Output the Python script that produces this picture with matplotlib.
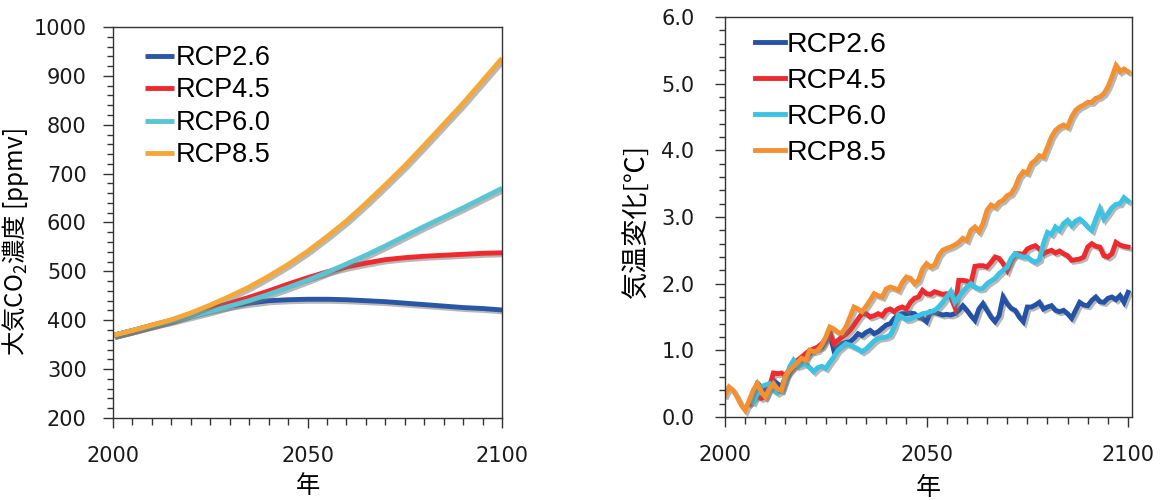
import matplotlib
matplotlib.use("Agg")
import matplotlib.pyplot as plt
import matplotlib.patheffects as pe
from matplotlib.ticker import MultipleLocator
import numpy as np

# CO2 concentration [ppmv], every 5 years 2000-2100
co2_years = list(range(2000, 2101, 5))
co2_rcp26 = [369, 379, 389, 400, 412, 421, 429, 435, 440, 442, 443, 443, 442, 440, 438, 435, 432, 429, 426, 424, 421]
co2_rcp45 = [369, 379, 390, 400, 412, 423, 435, 447, 460, 474, 487, 499, 509, 517, 524, 528, 531, 533, 535, 537, 538]
co2_rcp60 = [369, 379, 389, 398, 408, 418, 429, 440, 453, 467, 482, 498, 515, 533, 552, 572, 592, 611, 630, 650, 670]
co2_rcp85 = [369, 379, 390, 401, 415, 431, 449, 468, 490, 514, 541, 571, 603, 639, 677, 716, 758, 801, 844, 890, 936]

# temperature change [deg C], annual
t85_years = list(range(2000, 2101))
t_rcp85 = [0.33, 0.45, 0.40, 0.30, 0.18, 0.10, 0.25, 0.40, 0.50, 0.38,
           0.30, 0.42, 0.50, 0.42, 0.40, 0.62, 0.70, 0.76, 0.82, 0.88,
           0.85, 1.00, 0.98, 1.00, 1.08, 1.20, 1.35, 1.32, 1.27, 1.26,
           1.35, 1.50, 1.65, 1.62, 1.58, 1.66, 1.75, 1.85, 1.82, 1.80,
           1.92, 1.95, 1.93, 1.90, 2.02, 2.10, 2.08, 2.00, 2.05, 2.22,
           2.30, 2.25, 2.28, 2.42, 2.50, 2.53, 2.55, 2.58, 2.62, 2.68,
           2.65, 2.80, 2.85, 2.78, 2.90, 3.10, 3.18, 3.15, 3.22, 3.25,
           3.32, 3.35, 3.45, 3.60, 3.68, 3.66, 3.80, 3.85, 3.92, 3.90,
           4.05, 4.20, 4.30, 4.35, 4.38, 4.35, 4.50, 4.60, 4.65, 4.68,
           4.72, 4.72, 4.78, 4.80, 4.85, 4.95, 5.10, 5.27, 5.18, 5.22,
           5.18]

t45_years = list(range(2006, 2101))
t_rcp45 = [0.20, 0.28, 0.31, 0.28,
           0.30, 0.45, 0.66, 0.65, 0.66, 0.62, 0.72, 0.78, 0.85, 0.90,
           0.95, 1.00, 1.02, 1.05, 1.10, 1.18, 1.25, 1.10, 1.15, 1.20,
           1.24, 1.30, 1.38, 1.47, 1.55, 1.55, 1.50, 1.52, 1.55, 1.52,
           1.60, 1.62, 1.58, 1.63, 1.65, 1.62, 1.72, 1.78, 1.80, 1.90,
           1.85, 1.84, 1.88, 1.86, 1.84, 1.85, 1.80, 1.65, 2.05, 2.05,
           2.04, 2.00, 2.26, 2.27, 2.27, 2.25, 2.32, 2.40, 2.38, 2.30,
           2.20, 2.35, 2.45, 2.45, 2.44, 2.52, 2.55, 2.57, 2.52, 2.45,
           2.48, 2.50, 2.46, 2.49, 2.45, 2.42, 2.35, 2.36, 2.37, 2.40,
           2.55, 2.60, 2.56, 2.55, 2.42, 2.40, 2.45, 2.62, 2.58, 2.56,
           2.55]

t26_years = list(range(2006, 2101))
t_rcp26 = [0.22, 0.35, 0.50, 0.45,
           0.40, 0.48, 0.55, 0.50, 0.45, 0.60, 0.68, 0.75, 0.80, 0.85,
           0.90, 0.95, 1.02, 1.03, 1.05, 1.15, 1.25, 1.00, 1.05, 1.10,
           1.12, 1.13, 1.18, 1.25, 1.22, 1.27, 1.30, 1.25, 1.28, 1.33,
           1.38, 1.40, 1.48, 1.53, 1.55, 1.55, 1.56, 1.55, 1.50, 1.48,
           1.43, 1.58, 1.57, 1.55, 1.53, 1.54, 1.53, 1.55, 1.60, 1.67,
           1.60, 1.52, 1.45, 1.62, 1.70, 1.60, 1.50, 1.43, 1.52, 1.80,
           1.70, 1.63, 1.60, 1.50, 1.43, 1.65, 1.65, 1.68, 1.72, 1.62,
           1.65, 1.67, 1.60, 1.58, 1.60, 1.55, 1.48, 1.60, 1.72, 1.68,
           1.67, 1.75, 1.80, 1.73, 1.72, 1.78, 1.80, 1.76, 1.82, 1.72,
           1.87]

t60_years = list(range(2007, 2101))
t_rcp60 = [0.22, 0.35, 0.46,
           0.48, 0.50, 0.40, 0.36, 0.40, 0.55, 0.75, 0.85, 0.76, 0.78,
           0.80, 0.74, 0.68, 0.74, 0.76, 0.73, 0.82, 0.90, 1.00, 1.05,
           1.10, 1.08, 1.05, 1.02, 0.98, 1.02, 1.08, 1.14, 1.18, 1.19,
           1.20, 1.23, 1.35, 1.53, 1.50, 1.46, 1.47, 1.50, 1.52, 1.55,
           1.56, 1.58, 1.60, 1.65, 1.72, 1.80, 1.88, 1.72, 1.80, 1.88,
           1.95, 2.00, 1.95, 1.92, 1.93, 2.00, 2.04, 2.08, 2.15, 2.20,
           2.25, 2.38, 2.45, 2.42, 2.40, 2.40, 2.35, 2.32, 2.36, 2.60,
           2.77, 2.74, 2.85, 2.80, 2.90, 2.95, 2.87, 2.94, 2.97, 2.92,
           2.85, 2.80, 2.97, 3.12, 2.97, 3.05, 3.14, 3.19, 3.20, 3.29,
           3.24]

labels = ["RCP2.6", "RCP4.5", "RCP6.0", "RCP8.5"]
left_colors = ["#2a56a6", "#ee2a2e", "#5ac4d2", "#f4a83a"]
right_colors = ["#2452a4", "#ee2a2e", "#3cc2e2", "#f39132"]

cjk = ["Noto Sans CJK JP", "DejaVu Sans"]
shadow = [pe.SimpleLineShadow(offset=(1.5, -1.5), shadow_color="0.45", alpha=0.5),
          pe.Normal()]


def style_axes(ax, ypad):
    for s in ax.spines.values():
        s.set_color("#333333")
        s.set_linewidth(1.0)
    ax.tick_params(which="both", direction="out", colors="#333333",
                   labelcolor="#1a1a1a", labelsize=15)
    ax.tick_params(axis="x", which="both", pad=13)
    ax.tick_params(axis="y", which="both", pad=ypad)
    ax.tick_params(which="major", length=7, width=1.0)
    ax.tick_params(which="minor", length=4, width=1.0)
    ax.tick_params(axis="x", which="minor", length=5)
    ax.xaxis.set_major_locator(MultipleLocator(50))
    ax.xaxis.set_minor_locator(MultipleLocator(5))


fig = plt.figure(figsize=(11.63, 5.0), dpi=100)

# left: CO2
ax1 = fig.add_axes([0.0972, 0.164, 0.3345, 0.782])
co2_series = [co2_rcp26, co2_rcp45, co2_rcp60, co2_rcp85]
for vals, c, lab in zip(co2_series, left_colors, labels):
    ax1.plot(co2_years, vals, color=c, lw=3.5, label=lab,
             solid_capstyle="butt", path_effects=shadow)
ax1.set_xlim(2000, 2100)
ax1.set_ylim(200, 1000)
style_axes(ax1, 12)
ax1.yaxis.set_major_locator(MultipleLocator(100))
ax1.yaxis.set_minor_locator(MultipleLocator(20))
ax1.set_ylabel("大気CO$_\\mathregular{2}$濃度 [ppmv]", family=cjk, fontsize=17.5)
ax1.yaxis.set_label_coords(-0.21, 0.45)
ax1.set_xlabel("年", family=cjk, fontsize=17.5)
ax1.xaxis.set_label_coords(0.5, -0.14)
leg1 = ax1.legend(loc="upper left", bbox_to_anchor=(0.082, 0.954), frameon=False,
                  prop={"family": "Liberation Sans", "size": 19.5},
                  handlelength=1.07, handletextpad=0.05, labelspacing=0.24,
                  borderpad=0, borderaxespad=0)
for h in leg1.get_lines():
    h.set_linewidth(3.5)
    h.set_path_effects([])

# right: temperature
ax2 = fig.add_axes([0.6234, 0.166, 0.350, 0.800])
t_series = [(t26_years, t_rcp26), (t45_years, t_rcp45),
            (t60_years, t_rcp60), (t85_years, t_rcp85)]
for (yrs, vals), c, lab in zip(t_series, right_colors, labels):
    ax2.plot(yrs, vals, color=c, lw=3.5, label=lab,
             solid_joinstyle="miter", path_effects=shadow)
ax2.set_xlim(2000, 2101)
ax2.set_ylim(0, 6)
style_axes(ax2, 15)
ax2.yaxis.set_major_locator(MultipleLocator(1.0))
ax2.yaxis.set_minor_locator(MultipleLocator(0.2))
ax2.yaxis.set_major_formatter(plt.FormatStrFormatter("%.1f"))
ax2.set_ylabel("気温変化[℃]", family=cjk, fontsize=19.5)
ax2.yaxis.set_label_coords(-0.184, 0.49)
ax2.set_xlabel("年", family=cjk, fontsize=18)
ax2.xaxis.set_label_coords(0.5, -0.145)
leg2 = ax2.legend(loc="upper left", bbox_to_anchor=(0.074, 0.963), frameon=False,
                  prop={"family": "Liberation Sans", "size": 20.5},
                  handlelength=1.05, handletextpad=0.05, labelspacing=0.35,
                  borderpad=0, borderaxespad=0)
for h in leg2.get_lines():
    h.set_linewidth(3.5)
    h.set_path_effects([])

fig.savefig("out.png", dpi=100)
